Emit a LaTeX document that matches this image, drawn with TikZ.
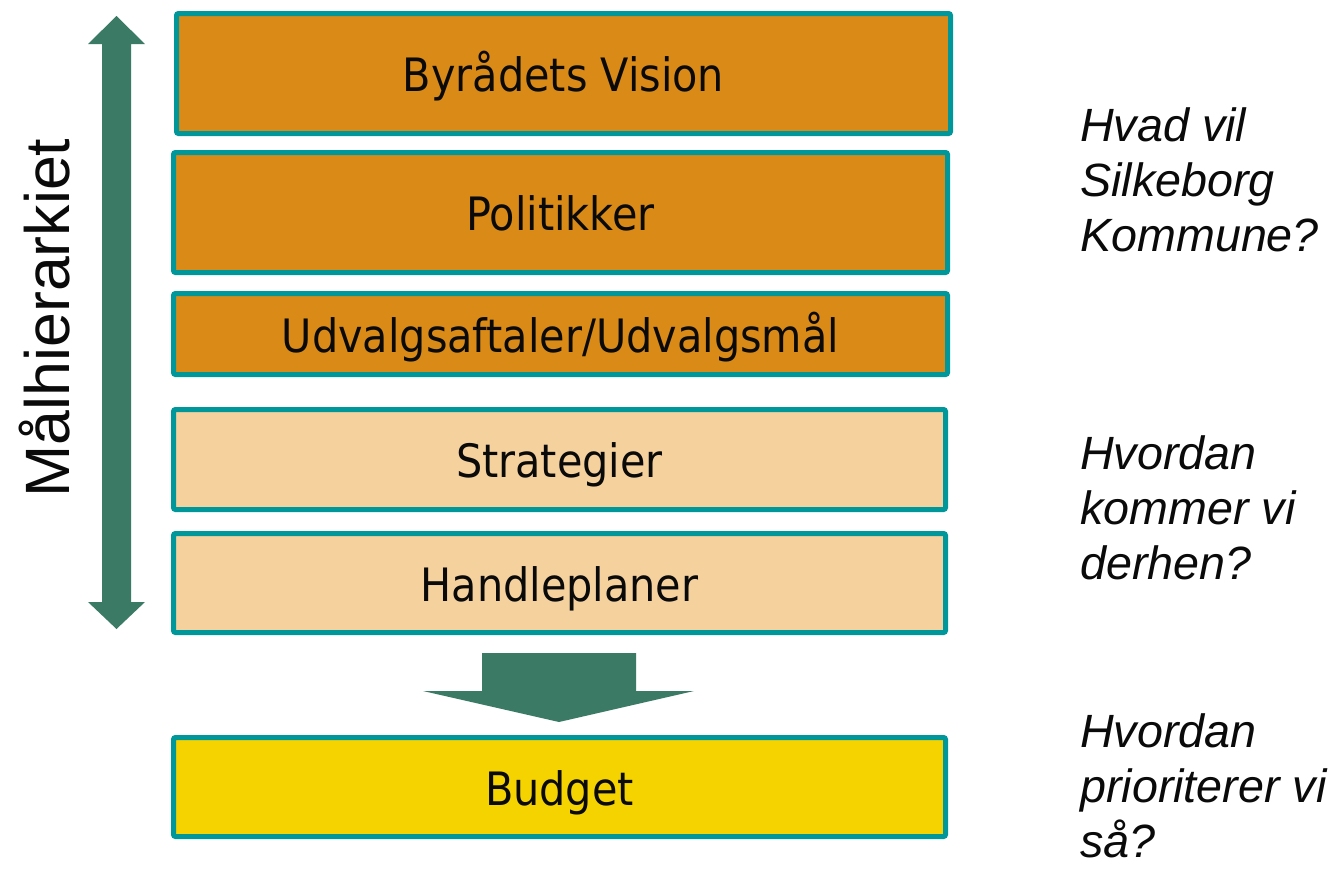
\documentclass[tikz,border=0pt]{standalone}
\usepackage{fontspec}
\setmainfont{Liberation Sans}
\newfontfamily\boxfont{DejaVu Sans Condensed}
\newfontfamily\notefont{Liberation Sans}

\definecolor{frame}{HTML}{00979B}
\definecolor{darkorange}{HTML}{DA8A16}
\definecolor{peach}{HTML}{F5D19E}
\definecolor{budgetyellow}{HTML}{F5D300}
\definecolor{arrowgreen}{HTML}{3B7B65}
\definecolor{ink}{HTML}{0A0A0A}

\begin{document}
\begin{tikzpicture}[x=0.75pt,y=-0.75pt,
  level/.style={draw=frame, line width=3.75pt, rounded corners=1.5pt,
    minimum width=580.5pt, inner sep=0pt, text=ink,
    font=\boxfont\fontsize{34.5}{40}\selectfont,
    text height=27.5pt, text depth=0pt},
  goal/.style={level, fill=darkorange},
  means/.style={level, fill=peach},
  money/.style={level, fill=budgetyellow},
  question/.style={anchor=base west, inner sep=0pt, align=left, text=ink,
    font=\notefont\itshape\fontsize{35}{41.25}\selectfont},
  block/.style={fill=arrowgreen}]
\useasboundingbox (0,0) rectangle (1343,871);

% hierarchy of goals
\node[goal, minimum height=90pt]     (vision)   at (563.5,73.5) {Byrådets Vision};
\node[goal, minimum height=90pt]     (politik)  at (560.5,212.5) {Politikker};
\node[goal, minimum height=60.75pt]  (udvalg)   at (560.5,334) {Udvalgsaftaler/Udvalgsmål};
\node[means, minimum width=579pt, minimum height=75pt]    (strategi) at (559.5,459.5) {Strategier};
\node[means, minimum width=579pt, minimum height=74.25pt] (handle)   at (559.5,583) {Handleplaner};
\node[money, minimum width=579pt, minimum height=74.25pt] (budget)   at (559.5,787) {Budget};

% double-headed arrow along the hierarchy
\fill[block] (116.5,16) -- (145,44) -- (131,44) -- (131,602) -- (145,602)
  -- (116.5,629) -- (88,602) -- (102,602) -- (102,44) -- (88,44) -- cycle;
\node[rotate=90, anchor=base, inner sep=0pt, text=ink,
  font=\notefont\fontsize{47}{50}\selectfont] (label) at (69,318) {Målhierarkiet};

% block arrow from the plans down to the budget
\fill[block] (482,653) -- (636,653) -- (636,691) -- (694,691) -- (559,722)
  -- (423,691) -- (482,691) -- cycle;

% questions on the right (anchored at the baseline of the last line)
\node[question] (q1) at (1080,251) {Hvad vil\\Silkeborg\\Kommune?};
\node[question] (q2) at (1080,579) {Hvordan\\kommer vi\\derhen?};
\node[question] (q3) at (1080,857) {Hvordan\\prioriterer vi\\så?};
\end{tikzpicture}
\end{document}
